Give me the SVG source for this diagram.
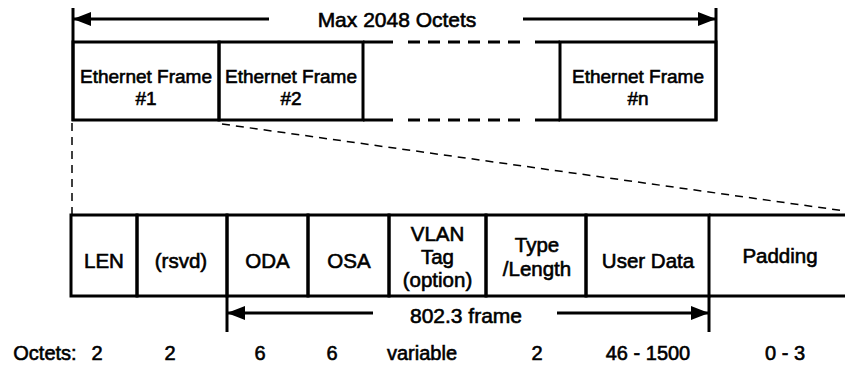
<svg xmlns="http://www.w3.org/2000/svg" width="845" height="365" viewBox="0 0 845 365">
<style>
.bx{fill:none;stroke:#000;stroke-width:3}
.ln{stroke:#000;stroke-width:3;fill:none}
.dsh{stroke:#000;stroke-width:3;fill:none;stroke-dasharray:12 8}
.zm{stroke:#000;stroke-width:1.5;fill:none;stroke-dasharray:8 6}
.ar{stroke:#000;stroke-width:3;fill:none;marker-end:url(#ah)}
text{font-family:"Liberation Sans",Arial,sans-serif;font-size:19px;fill:#000;stroke:#000;stroke-width:0.6;text-anchor:middle}
.ti{font-size:21px}
.fd{font-size:20.5px}
.oc{font-size:20px}
</style>
<defs>
<marker id="ah" viewBox="0 0 18 14" refX="17" refY="7" markerWidth="18" markerHeight="14" orient="auto" markerUnits="userSpaceOnUse">
<path d="M0,0 L18,7 L0,14 z" fill="#000"/>
</marker>
</defs>
<g id="connectors">
<line class="ln" x1="73" y1="8" x2="73" y2="121"/>
<line class="ln" x1="716" y1="8" x2="716" y2="121"/>
<line class="ar" x1="269" y1="19" x2="74" y2="19"/>
<line class="ar" x1="523" y1="19" x2="715" y2="19"/>
<line class="ln" x1="227" y1="296" x2="227" y2="332"/>
<line class="ln" x1="709" y1="296" x2="709" y2="332"/>
<line class="ar" x1="373" y1="313" x2="228" y2="313"/>
<line class="ar" x1="557" y1="313" x2="708" y2="313"/>
<line class="zm" x1="72" y1="123" x2="72" y2="214"/>
<line class="zm" x1="222" y1="124" x2="845" y2="211"/>
</g>
<g id="title"><text class="ti" x="397" y="27">Max 2048 Octets</text></g>
<g id="frame1">
<rect class="bx" x="73" y="42" width="146" height="78"/>
<text x="146" y="83">Ethernet Frame</text>
<text x="146" y="105">#1</text>
</g>
<g id="frame2">
<rect class="bx" x="219" y="42" width="144" height="78"/>
<text x="291" y="83">Ethernet Frame</text>
<text x="291" y="105">#2</text>
</g>
<g id="frame-gap">
<line class="ln" x1="363" y1="42" x2="393" y2="42"/>
<line class="ln" x1="363" y1="120" x2="393" y2="120"/>
<line class="dsh" x1="408" y1="42" x2="520" y2="42"/>
<line class="dsh" x1="408" y1="120" x2="520" y2="120"/>
<line class="ln" x1="535" y1="42" x2="560" y2="42"/>
<line class="ln" x1="535" y1="120" x2="560" y2="120"/>
</g>
<g id="frameN">
<rect class="bx" x="560" y="42" width="156" height="78"/>
<text x="638" y="83">Ethernet Frame</text>
<text x="638" y="105">#n</text>
</g>
<g id="len"><rect class="bx" x="71" y="215" width="66" height="81"/><text class="fd" x="104" y="268">LEN</text></g>
<g id="rsvd"><rect class="bx" x="137" y="215" width="90" height="81"/><text class="fd" x="181" y="268">(rsvd)</text></g>
<g id="oda"><rect class="bx" x="227" y="215" width="81" height="81"/><text class="fd" x="267.5" y="268">ODA</text></g>
<g id="osa"><rect class="bx" x="308" y="215" width="81" height="81"/><text class="fd" x="349" y="268">OSA</text></g>
<g id="vlan"><rect class="bx" x="389" y="215" width="97" height="81"/>
<text class="fd" x="437.5" y="241">VLAN</text><text class="fd" x="437.5" y="264">Tag</text><text class="fd" x="437.5" y="287">(option)</text></g>
<g id="type"><rect class="bx" x="486" y="215" width="100" height="81"/>
<text class="fd" x="537" y="252">Type</text><text class="fd" x="537" y="276">/Length</text></g>
<g id="userdata"><rect class="bx" x="586" y="215" width="123" height="81"/><text class="fd" x="648" y="268">User Data</text></g>
<g id="padding">
<line class="ln" x1="709" y1="215" x2="848" y2="215"/>
<line class="ln" x1="709" y1="296" x2="848" y2="296"/>
<text class="fd" x="780" y="263">Padding</text>
</g>
<g id="label-8023"><text class="ti" x="466" y="323">802.3 frame</text></g>
<g id="octets">
<text class="oc" x="45" y="360">Octets:</text>
<text class="oc" x="97" y="360">2</text>
<text class="oc" x="170" y="360">2</text>
<text class="oc" x="260" y="360">6</text>
<text class="oc" x="332" y="360">6</text>
<text class="oc" x="422" y="360">variable</text>
<text class="oc" x="537" y="360">2</text>
<text class="oc" x="648" y="360">46 - 1500</text>
<text class="oc" x="785" y="360">0 - 3</text>
</g>
</svg>
